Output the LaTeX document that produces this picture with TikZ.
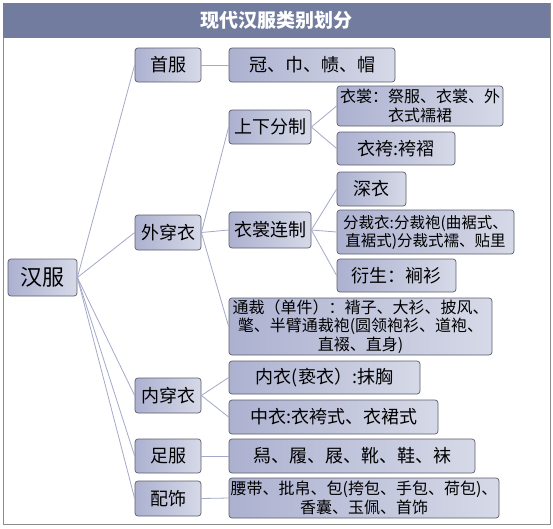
\documentclass[tikz,border=0pt]{standalone}
\usepackage{fontspec}
\setmainfont{Noto Sans CJK SC}
\begin{document}
\begin{tikzpicture}[x=1pt,y=-1pt,
  box/.style={draw=boxline,line width=0.7pt,rounded corners=3pt,
    left color=boxleft,right color=boxright,inner sep=0pt,align=center,
    text=black,anchor=center},
  conn/.style={draw=connline,line width=0.8pt},
  lvone/.style={box,font=\fontsize{18}{20}\selectfont},
  leaf/.style={box,font=\fontsize{18}{20}\selectfont},
  multi/.style={box,font=\fontsize{16}{18.5}\selectfont}]
\definecolor{boxleft}{HTML}{ACB1D0}
\definecolor{boxright}{HTML}{D6D9E7}
\definecolor{boxline}{HTML}{5C5C6C}
\definecolor{connline}{HTML}{A4A9C8}
\definecolor{titlebg}{HTML}{727C9F}
\definecolor{framecol}{HTML}{8C8C8C}
\useasboundingbox (0,0) rectangle (553,528);
\fill[white] (0,0) rectangle (553,528);
\draw[framecol,line width=0.8pt] (3,3) rectangle (550,524);
\node[fill=titlebg,minimum width=547pt,minimum height=35pt,inner sep=0pt,
  text=white,font=\fontsize{19}{21}\selectfont\bfseries] (title) at (276.5,20.5) {现代汉服类别划分};

\node[box,font=\fontsize{22}{24}\selectfont,minimum width=69pt,minimum height=37pt] (root) at (42.5,277.5) {汉服};

\node[lvone,minimum width=66pt,minimum height=34pt] (shou) at (168,65) {首服};
\node[lvone,minimum width=66pt,minimum height=35pt] (wai) at (168,232.5) {外穿衣};
\node[lvone,minimum width=66pt,minimum height=35pt] (nei) at (168,395.5) {内穿衣};
\node[lvone,minimum width=66pt,minimum height=34pt] (zu) at (168,456) {足服};
\node[lvone,minimum width=66pt,minimum height=35pt] (pei) at (168,498.5) {配饰};

\node[leaf,minimum width=166pt,minimum height=34pt] (guan) at (312,65) {冠、巾、帻、帽};
\node[leaf,minimum width=82pt,minimum height=34pt] (shangxia) at (270,127) {上下分制};
\node[leaf,minimum width=82pt,minimum height=36pt] (lianzhi) at (270,230) {衣裳连制};
\node[multi,minimum width=263pt,minimum height=57pt] (tongcai) at (360.5,326.5) {通裁（单件）：褙子、大衫、披风、\\氅、半臂通裁袍(圆领袍衫、道袍、\\直裰、直身)};
\node[leaf,minimum width=191pt,minimum height=33pt] (neiyi) at (324.5,377.5) {内衣(亵衣）:抹胸};
\node[leaf,minimum width=209pt,minimum height=34pt] (zhongyi) at (333.5,417) {中衣:衣袴式、衣裙式};
\node[leaf,minimum width=246pt,minimum height=34pt] (xie) at (352,456) {舄、履、屐、靴、鞋、袜};
\node[multi,minimum width=270pt,minimum height=40pt] (yaodai) at (364,498) {腰带、批帛、包(挎包、手包、荷包)、\\香囊、玉佩、首饰};

\node[multi,minimum width=166pt,minimum height=40pt] (yichang) at (420,106) {衣裳：祭服、衣裳、外\\衣式襦裙};
\node[leaf,minimum width=118pt,minimum height=33pt] (yiku) at (396,148.5) {衣袴:袴褶};
\node[leaf,minimum width=69pt,minimum height=34pt] (shenyi) at (371.5,189) {深衣};
\node[multi,font=\fontsize{15.5}{18}\selectfont,minimum width=177pt,minimum height=44pt] (fencai) at (425.5,232) {分裁衣:分裁袍(曲裾式、\\直裾式)分裁式襦、贴里};
\node[leaf,minimum width=119pt,minimum height=33pt] (yansheng) at (396.5,275.5) {衍生：裥衫};

\draw[conn] (root.east) -- (shou.west);
\draw[conn] (root.east) -- (wai.west);
\draw[conn] (root.east) -- (nei.west);
\draw[conn] (root.east) -- (zu.west);
\draw[conn] (root.east) -- (pei.west);
\draw[conn] (shou.east) -- (guan.west);
\draw[conn] (wai.east) -- (shangxia.west);
\draw[conn] (wai.east) -- (lianzhi.west);
\draw[conn] (wai.east) -- (tongcai.west);
\draw[conn] (shangxia.east) -- (yichang.west);
\draw[conn] (shangxia.east) -- (yiku.west);
\draw[conn] (lianzhi.east) -- (shenyi.west);
\draw[conn] (lianzhi.east) -- (fencai.west);
\draw[conn] (lianzhi.east) -- (yansheng.west);
\draw[conn] (nei.east) -- (neiyi.west);
\draw[conn] (nei.east) -- (zhongyi.west);
\draw[conn] (zu.east) -- (xie.west);
\draw[conn] (pei.east) -- (yaodai.west);
\end{tikzpicture}
\end{document}
